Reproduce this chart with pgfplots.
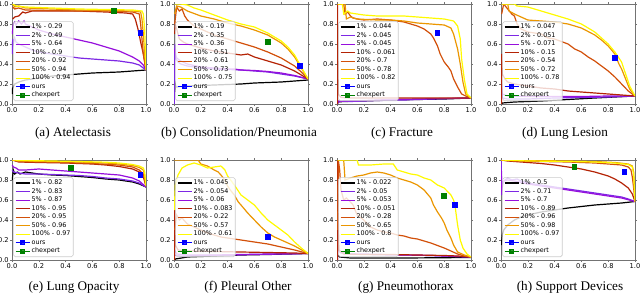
\documentclass[border=0pt]{standalone}
\usepackage{pgfplots}
\pgfplotsset{compat=1.18}
\usepackage{fontspec}
\setmainfont{DejaVu Sans}
\newfontfamily\capfont{Liberation Serif}
\definecolor{c1}{RGB}{0,0,0}
\definecolor{c2}{RGB}{125,40,228}
\definecolor{c3}{RGB}{150,15,220}
\definecolor{c4}{RGB}{180,35,5}
\definecolor{c5}{RGB}{210,80,10}
\definecolor{c6}{RGB}{235,150,0}
\definecolor{c7}{RGB}{255,250,0}
\definecolor{cours}{RGB}{0,0,255}
\definecolor{cchex}{RGB}{0,128,0}
\pgfplotsset{
 pr/.style={scale only axis, width=100.5pt, height=75pt, anchor=south west,
  xmin=0,xmax=1,ymin=0,ymax=1,
  xtick={0,0.2,0.4,0.6,0.8,1}, ytick={0,0.2,0.4,0.6,0.8,1},
  xticklabels={0.0,0.2,0.4,0.6,0.8,1.0}, yticklabels={0.0,0.2,0.4,0.6,0.8,1.0},
  tick label style={font=\fontsize{5}{5.5}\selectfont},
  xticklabel style={inner sep=0.8pt}, yticklabel style={inner sep=0.8pt},
  axis line style={black!55}, tick style={black!55}, tick align=outside, major tick length=1.5pt,
  every axis plot/.append style={line width=0.9pt},
  legend cell align=left,
  legend image code/.code={\draw[mark repeat=2,mark phase=2,#1] plot coordinates {(0cm,0cm) (0.185cm,0cm) (0.37cm,0cm)};},
  legend style={at={(0.01,0.03)}, anchor=south west, font=\fontsize{4.8}{5}\selectfont,
   draw=black!20, fill=white, fill opacity=0.8, text opacity=1, draw opacity=1, rounded corners=1.2pt,
   inner sep=1pt, row sep=0.3pt,
   nodes={inner sep=1pt, text height=3.2pt, text depth=0.9pt}},
 },
 ours/.style={forget plot, only marks, mark=square*, mark size=1.6pt, color=cours},
 chex/.style={forget plot, only marks, mark=square*, mark size=1.6pt, color=cchex},
}
\newcommand{\oc}{%
 \addlegendimage{cours, line width=1pt, mark=square*, mark size=1.3pt}\addlegendentry{ours}
 \addlegendimage{cchex, line width=1pt, mark=square*, mark size=1.3pt}\addlegendentry{chexpert}}
\begin{document}
\begin{tikzpicture}
\useasboundingbox (0,0) rectangle (480pt,220.5pt);
% (a) Atelectasis
\begin{axis}[pr, at={(9pt,142.5pt)}]
\addplot[c1] coordinates {(0.002,0.1) (0.003,0.15) (0.01,0.17) (0.02,0.2) (0.05,0.22) (0.1,0.24) (0.2,0.26) (0.3,0.28) (0.4,0.29) (0.5,0.30) (0.6,0.31) (0.7,0.315) (0.8,0.32) (0.9,0.33) (1.0,0.34)};
\addlegendentry{1\% - 0.29}
\addplot[c2] coordinates {(0.002,0.5) (0.005,0.65) (0.01,0.6) (0.02,0.66) (0.03,0.62) (0.05,0.6) (0.1,0.57) (0.15,0.54) (0.2,0.52) (0.3,0.5) (0.4,0.48) (0.5,0.46) (0.6,0.45) (0.7,0.44) (0.8,0.43) (0.9,0.41) (0.95,0.39) (1,0.34)};
\addlegendentry{2\% - 0.49}
\addplot[c3] coordinates {(0.002,0.7) (0.01,0.8) (0.02,0.82) (0.03,0.79) (0.05,0.83) (0.07,0.8) (0.09,0.83) (0.1,0.8) (0.15,0.77) (0.2,0.74) (0.3,0.7) (0.4,0.67) (0.5,0.64) (0.6,0.61) (0.7,0.57) (0.8,0.53) (0.85,0.5) (0.9,0.47) (0.95,0.43) (0.98,0.39) (1,0.34)};
\addlegendentry{5\% - 0.64}
\addplot[c4] coordinates {(0.005,0.85) (0.02,0.87) (0.05,0.88) (0.08,0.92) (0.1,0.91) (0.15,0.93) (0.3,0.93) (0.5,0.93) (0.7,0.92) (0.85,0.91) (0.9,0.9) (0.92,0.85) (0.94,0.75) (0.96,0.62) (0.98,0.5) (1,0.34)};
\addlegendentry{10\% - 0.9}
\addplot[c5] coordinates {(0.005,0.97) (0.02,0.95) (0.05,0.96) (0.1,0.94) (0.3,0.935) (0.5,0.93) (0.7,0.93) (0.9,0.92) (0.95,0.9) (0.96,0.8) (0.97,0.65) (0.98,0.5) (1,0.34)};
\addlegendentry{20\% - 0.92}
\addplot[c6] coordinates {(0.005,1) (0.02,0.97) (0.05,0.98) (0.1,0.96) (0.3,0.95) (0.5,0.94) (0.7,0.935) (0.9,0.93) (0.96,0.92) (0.97,0.85) (0.98,0.7) (0.99,0.5) (1,0.34)};
\addlegendentry{50\% - 0.94}
\addplot[c7] coordinates {(0.005,1) (0.03,0.98) (0.1,0.97) (0.3,0.96) (0.5,0.95) (0.7,0.945) (0.9,0.94) (0.97,0.93) (0.98,0.9) (0.99,0.75) (0.995,0.55) (1,0.34)};
\addlegendentry{100\% - 0.94}
\addplot[ours] coordinates {(0.96,0.71)};
\addplot[chex] coordinates {(0.76,0.93)};
\oc
\end{axis}
% (b) Consolidation/Pneumonia
\begin{axis}[pr, at={(130.5pt,142.5pt)}]
\addplot[c1] coordinates {(0.008,0.12) (0.01,0.2) (0.015,0.17) (0.02,0.17) (0.05,0.175) (0.1,0.18) (0.2,0.185) (0.3,0.19) (0.4,0.195) (0.5,0.2) (0.6,0.21) (0.7,0.215) (0.8,0.22) (0.9,0.23) (1,0.24)};
\addlegendentry{1\% - 0.19}
\addplot[c2] coordinates {(0.002,0.0) (0.004,0.5) (0.008,0.6) (0.015,0.45) (0.03,0.42) (0.05,0.4) (0.1,0.38) (0.2,0.36) (0.3,0.35) (0.4,0.345) (0.5,0.34) (0.6,0.33) (0.7,0.32) (0.8,0.3) (0.9,0.28) (1,0.25)};
\addlegendentry{2\% - 0.35}
\addplot[c3] coordinates {(0.004,0.55) (0.01,0.5) (0.02,0.46) (0.05,0.43) (0.1,0.4) (0.2,0.37) (0.3,0.36) (0.4,0.35) (0.45,0.35) (0.5,0.34) (0.6,0.335) (0.7,0.325) (0.8,0.31) (0.9,0.285) (1,0.25)};
\addlegendentry{5\% - 0.36}
\addplot[c4] coordinates {(0.005,0.7) (0.01,0.8) (0.02,0.75) (0.04,0.65) (0.07,0.62) (0.1,0.6) (0.15,0.58) (0.2,0.56) (0.3,0.53) (0.4,0.51) (0.5,0.49) (0.55,0.5) (0.6,0.47) (0.7,0.43) (0.8,0.39) (0.9,0.33) (1,0.25)};
\addlegendentry{10\% - 0.51}
\addplot[c5] coordinates {(0.005,0.8) (0.02,0.97) (0.04,0.93) (0.06,0.95) (0.08,0.88) (0.1,0.84) (0.15,0.78) (0.2,0.75) (0.3,0.69) (0.4,0.65) (0.5,0.61) (0.6,0.57) (0.7,0.52) (0.8,0.46) (0.9,0.38) (0.95,0.32) (1,0.25)};
\addlegendentry{20\% - 0.61}
\addplot[c6] coordinates {(0.005,0.9) (0.02,0.98) (0.05,0.97) (0.1,0.93) (0.2,0.88) (0.3,0.85) (0.4,0.81) (0.5,0.78) (0.6,0.74) (0.7,0.69) (0.8,0.61) (0.85,0.55) (0.9,0.47) (0.95,0.36) (1,0.25)};
\addlegendentry{50\% - 0.73}
\addplot[c7] coordinates {(0.005,1) (0.05,1) (0.1,0.99) (0.15,0.96) (0.2,0.94) (0.3,0.89) (0.4,0.84) (0.5,0.8) (0.6,0.77) (0.7,0.71) (0.8,0.63) (0.85,0.57) (0.9,0.49) (0.95,0.37) (1,0.25)};
\addlegendentry{100\% - 0.75}
\addplot[ours] coordinates {(0.94,0.38)};
\addplot[chex] coordinates {(0.70,0.62)};
\oc
\end{axis}
% (c) Fracture
\begin{axis}[pr, at={(252.75pt,142.5pt)}]
\addplot[c1] coordinates {(0.003,0) (0.005,0.02) (0.05,0.025) (0.2,0.03) (0.4,0.04) (0.6,0.045) (0.8,0.05) (1,0.06)};
\addlegendentry{1\% - 0.044}
\addplot[c2] coordinates {(0.005,0.0) (0.01,0.03) (0.1,0.025) (0.3,0.035) (0.5,0.04) (0.7,0.05) (1,0.06)};
\addlegendentry{2\% - 0.045}
\addplot[c3] coordinates {(0.005,0.02) (0.05,0.03) (0.2,0.035) (0.4,0.045) (0.6,0.05) (0.8,0.055) (1,0.06)};
\addlegendentry{5\% - 0.045}
\addplot[c4] coordinates {(0.003,0) (0.004,1.0) (0.006,0.5) (0.01,0.1) (0.03,0.065) (0.1,0.06) (0.3,0.06) (0.5,0.06) (0.7,0.06) (0.9,0.06) (1,0.06)};
\addlegendentry{10\% - 0.061}
\addplot[c5] coordinates {(0.005,1) (0.05,1) (0.06,0.9) (0.08,0.92) (0.1,0.88) (0.12,0.86) (0.15,0.85) (0.2,0.84) (0.3,0.85) (0.4,0.84) (0.45,0.83) (0.5,0.82) (0.55,0.8) (0.6,0.78) (0.65,0.75) (0.7,0.7) (0.72,0.66) (0.75,0.58) (0.77,0.5) (0.8,0.42) (0.83,0.37) (0.85,0.33) (0.87,0.25) (0.9,0.17) (0.93,0.1) (0.96,0.08) (1,0.06)};
\addlegendentry{20\% - 0.7}
\addplot[c6] coordinates {(0.005,1) (0.06,1) (0.07,0.85) (0.1,0.87) (0.15,0.85) (0.3,0.84) (0.4,0.84) (0.5,0.83) (0.6,0.81) (0.7,0.8) (0.8,0.79) (0.85,0.76) (0.87,0.7) (0.9,0.55) (0.92,0.4) (0.94,0.22) (0.96,0.1) (1,0.06)};
\addlegendentry{50\% - 0.78}
\addplot[c7] coordinates {(0.005,1) (0.04,1) (0.05,0.9) (0.08,0.93) (0.1,0.91) (0.2,0.89) (0.3,0.88) (0.5,0.88) (0.6,0.87) (0.7,0.86) (0.8,0.85) (0.87,0.83) (0.9,0.78) (0.92,0.65) (0.93,0.45) (0.95,0.25) (0.97,0.1) (1,0.06)};
\addlegendentry{100\% - 0.82}
\addplot[ours] coordinates {(0.75,0.71)};
\oc
\end{axis}
% (d) Lung Lesion
\begin{axis}[pr, at={(375.75pt,142.5pt)}]
\addplot[c1] coordinates {(0.005,0) (0.01,0.01) (0.1,0.02) (0.3,0.03) (0.5,0.045) (0.7,0.06) (1,0.08)};
\addlegendentry{1\% - 0.047}
\addplot[c2] coordinates {(0.005,0.2) (0.01,0.06) (0.05,0.05) (0.2,0.05) (0.4,0.06) (0.6,0.065) (0.8,0.07) (1,0.08)};
\addlegendentry{2\% - 0.051}
\addplot[c3] coordinates {(0.005,0.15) (0.01,0.1) (0.05,0.08) (0.2,0.075) (0.4,0.075) (0.6,0.075) (0.8,0.08) (1,0.08)};
\addlegendentry{5\% - 0.071}
\addplot[c4] coordinates {(0.003,0) (0.005,0.5) (0.01,0.3) (0.03,0.25) (0.05,0.22) (0.1,0.2) (0.2,0.18) (0.3,0.16) (0.4,0.15) (0.5,0.13) (0.6,0.12) (0.7,0.11) (0.8,0.1) (0.9,0.09) (1,0.08)};
\addlegendentry{10\% - 0.15}
\addplot[c5] coordinates {(0.005,0.9) (0.02,1) (0.05,0.95) (0.08,0.9) (0.1,0.88) (0.12,0.8) (0.15,0.75) (0.2,0.72) (0.3,0.7) (0.35,0.66) (0.4,0.65) (0.5,0.6) (0.55,0.55) (0.6,0.52) (0.65,0.47) (0.7,0.43) (0.75,0.38) (0.8,0.33) (0.85,0.27) (0.9,0.2) (0.95,0.13) (1,0.08)};
\addlegendentry{20\% - 0.54}
\addplot[c6] coordinates {(0.005,1) (0.05,1) (0.06,0.93) (0.1,0.9) (0.15,0.87) (0.2,0.84) (0.3,0.83) (0.4,0.82) (0.5,0.8) (0.6,0.76) (0.7,0.69) (0.75,0.64) (0.8,0.58) (0.85,0.5) (0.88,0.4) (0.9,0.35) (0.93,0.25) (0.96,0.15) (1,0.08)};
\addlegendentry{50\% - 0.72}
\addplot[c7] coordinates {(0.005,1) (0.1,1) (0.12,0.98) (0.2,0.97) (0.3,0.93) (0.4,0.89) (0.5,0.85) (0.6,0.8) (0.7,0.72) (0.8,0.6) (0.85,0.52) (0.9,0.42) (0.93,0.3) (0.96,0.18) (1,0.08)};
\addlegendentry{100\% - 0.78}
\addplot[ours] coordinates {(0.85,0.46)};
\oc
\end{axis}
% (e) Lung Opacity
\begin{axis}[pr, at={(9pt,25.5pt)}]
\addplot[c1] coordinates {(0.002,0.8) (0.01,0.9) (0.02,0.86) (0.04,0.88) (0.06,0.86) (0.1,0.88) (0.15,0.87) (0.2,0.86) (0.3,0.85) (0.4,0.845) (0.5,0.835) (0.6,0.825) (0.7,0.81) (0.8,0.8) (0.9,0.78) (0.95,0.76) (1,0.73)};
\addlegendentry{1\% - 0.82}
\addplot[c2] coordinates {(0.002,0.9) (0.01,0.88) (0.05,0.87) (0.1,0.86) (0.2,0.86) (0.3,0.855) (0.4,0.85) (0.5,0.845) (0.6,0.835) (0.7,0.82) (0.8,0.81) (0.9,0.79) (0.95,0.77) (1,0.73)};
\addlegendentry{2\% - 0.83}
\addplot[c3] coordinates {(0.002,0.95) (0.01,0.93) (0.03,0.92) (0.05,0.9) (0.1,0.9) (0.2,0.91) (0.3,0.9) (0.4,0.89) (0.5,0.88) (0.6,0.87) (0.7,0.86) (0.8,0.85) (0.9,0.82) (0.95,0.79) (1,0.73)};
\addlegendentry{5\% - 0.87}
\addplot[c4] coordinates {(0.002,1) (0.05,0.98) (0.2,0.975) (0.4,0.97) (0.6,0.96) (0.7,0.95) (0.8,0.935) (0.9,0.91) (0.95,0.88) (0.98,0.83) (1,0.74)};
\addlegendentry{10\% - 0.95}
\addplot[c5] coordinates {(0.002,1) (0.05,0.985) (0.2,0.98) (0.4,0.975) (0.6,0.965) (0.8,0.95) (0.9,0.93) (0.95,0.9) (0.98,0.86) (1,0.74)};
\addlegendentry{20\% - 0.95}
\addplot[c6] coordinates {(0.002,1) (0.05,0.99) (0.3,0.985) (0.5,0.98) (0.7,0.97) (0.8,0.96) (0.9,0.945) (0.95,0.925) (0.98,0.9) (0.99,0.85) (1,0.74)};
\addlegendentry{50\% - 0.96}
\addplot[c7] coordinates {(0.002,1) (0.1,0.995) (0.3,0.99) (0.5,0.985) (0.7,0.978) (0.8,0.97) (0.9,0.955) (0.95,0.94) (0.98,0.92) (0.99,0.88) (1,0.74)};
\addlegendentry{100\% - 0.97}
\addplot[ours] coordinates {(0.96,0.85)};
\addplot[chex] coordinates {(0.44,0.92)};
\oc
\end{axis}
% (f) Pleural Other
\begin{axis}[pr, at={(130.5pt,25.5pt)}]
\addplot[c1] coordinates {(0.005,0) (0.01,0.01) (0.1,0.03) (0.3,0.04) (0.5,0.05) (0.7,0.055) (1,0.065)};
\addlegendentry{1\% - 0.045}
\addplot[c2] coordinates {(0.005,0.05) (0.05,0.04) (0.2,0.045) (0.4,0.05) (0.6,0.055) (0.8,0.06) (1,0.065)};
\addlegendentry{2\% - 0.054}
\addplot[c3] coordinates {(0.005,0.1) (0.02,0.06) (0.1,0.05) (0.3,0.05) (0.5,0.055) (0.7,0.06) (1,0.065)};
\addlegendentry{5\% - 0.06}
\addplot[c4] coordinates {(0.003,0) (0.005,0.5) (0.01,0.15) (0.03,0.1) (0.1,0.09) (0.3,0.085) (0.5,0.08) (0.7,0.075) (0.9,0.07) (1,0.065)};
\addlegendentry{10\% - 0.083}
\addplot[c5] coordinates {(0.005,0.3) (0.02,0.45) (0.04,0.4) (0.06,0.42) (0.1,0.36) (0.15,0.33) (0.2,0.3) (0.25,0.27) (0.3,0.25) (0.35,0.23) (0.4,0.22) (0.45,0.21) (0.5,0.2) (0.6,0.18) (0.7,0.16) (0.8,0.13) (0.9,0.1) (1,0.065)};
\addlegendentry{20\% - 0.22}
\addplot[c6] coordinates {(0.002,1) (0.18,1) (0.2,0.96) (0.25,0.94) (0.3,0.9) (0.33,0.88) (0.35,0.85) (0.38,0.8) (0.4,0.74) (0.42,0.7) (0.45,0.65) (0.48,0.58) (0.5,0.55) (0.55,0.47) (0.6,0.4) (0.65,0.33) (0.7,0.27) (0.75,0.23) (0.8,0.2) (0.9,0.14) (1,0.065)};
\addlegendentry{50\% - 0.57}
\addplot[c7] coordinates {(0.002,0.5) (0.01,0.75) (0.03,0.85) (0.06,0.92) (0.1,0.95) (0.15,0.97) (0.2,0.95) (0.25,0.92) (0.3,0.93) (0.35,0.94) (0.38,0.9) (0.4,0.84) (0.45,0.75) (0.5,0.65) (0.55,0.6) (0.6,0.55) (0.65,0.47) (0.7,0.4) (0.75,0.35) (0.8,0.3) (0.85,0.25) (0.9,0.18) (0.95,0.12) (1,0.065)};
\addlegendentry{100\% - 0.61}
\addplot[ours] coordinates {(0.70,0.23)};
\oc
\end{axis}
% (g) Pneumothorax
\begin{axis}[pr, at={(252.75pt,25.5pt)}]
\addplot[c1] coordinates {(0.005,0.05) (0.02,0.03) (0.1,0.02) (0.3,0.02) (0.5,0.02) (0.7,0.022) (1,0.025)};
\addlegendentry{1\% - 0.022}
\addplot[c2] coordinates {(0.003,0) (0.005,0.25) (0.01,0.1) (0.03,0.07) (0.1,0.06) (0.3,0.055) (0.5,0.05) (0.7,0.045) (0.9,0.035) (1,0.03)};
\addlegendentry{2\% - 0.05}
\addplot[c3] coordinates {(0.005,0.15) (0.02,0.08) (0.1,0.06) (0.3,0.055) (0.5,0.05) (0.7,0.045) (1,0.03)};
\addlegendentry{5\% - 0.053}
\addplot[c4] coordinates {(0.003,0) (0.004,1) (0.008,0.5) (0.015,0.1) (0.05,0.06) (0.2,0.055) (0.4,0.055) (0.6,0.05) (0.8,0.045) (0.9,0.04) (1,0.03)};
\addlegendentry{10\% - 0.051}
\addplot[c5] coordinates {(0.005,0.3) (0.01,1) (0.02,0.9) (0.03,0.7) (0.05,0.6) (0.07,0.62) (0.1,0.58) (0.12,0.55) (0.15,0.45) (0.2,0.4) (0.25,0.33) (0.3,0.3) (0.35,0.28) (0.4,0.27) (0.45,0.25) (0.5,0.24) (0.55,0.22) (0.6,0.21) (0.7,0.17) (0.8,0.12) (0.85,0.09) (0.9,0.06) (0.95,0.04) (1,0.03)};
\addlegendentry{20\% - 0.28}
\addplot[c6] coordinates {(0.005,1) (0.05,1) (0.06,0.8) (0.1,0.82) (0.15,0.84) (0.2,0.85) (0.25,0.87) (0.3,0.88) (0.35,0.87) (0.4,0.85) (0.45,0.82) (0.5,0.8) (0.55,0.78) (0.6,0.75) (0.65,0.7) (0.7,0.62) (0.72,0.55) (0.75,0.48) (0.78,0.42) (0.8,0.37) (0.82,0.3) (0.85,0.22) (0.87,0.15) (0.9,0.08) (0.95,0.05) (1,0.03)};
\addlegendentry{50\% - 0.65}
\addplot[c7] coordinates {(0.005,1) (0.15,1) (0.16,0.95) (0.25,0.95) (0.35,0.96) (0.42,0.96) (0.45,0.9) (0.5,0.88) (0.55,0.86) (0.6,0.85) (0.65,0.82) (0.7,0.8) (0.75,0.75) (0.8,0.72) (0.85,0.65) (0.87,0.6) (0.88,0.55) (0.89,0.45) (0.9,0.35) (0.92,0.2) (0.94,0.12) (0.97,0.06) (1,0.03)};
\addlegendentry{100\% - 0.8}
\addplot[ours] coordinates {(0.88,0.55)};
\addplot[chex] coordinates {(0.80,0.64)};
\oc
\end{axis}
% (h) Support Devices
\begin{axis}[pr, at={(375.75pt,25.5pt)}]
\addplot[c1] coordinates {(0.002,0.15) (0.01,0.25) (0.02,0.3) (0.05,0.35) (0.1,0.4) (0.15,0.43) (0.2,0.45) (0.3,0.48) (0.4,0.5) (0.5,0.52) (0.6,0.535) (0.7,0.55) (0.8,0.56) (0.9,0.57) (1,0.585)};
\addlegendentry{1\% - 0.5}
\addplot[c2] coordinates {(0.002,1) (0.005,0.65) (0.01,0.78) (0.03,0.8) (0.05,0.82) (0.08,0.8) (0.12,0.81) (0.15,0.79) (0.2,0.77) (0.3,0.75) (0.4,0.73) (0.5,0.71) (0.6,0.69) (0.7,0.67) (0.8,0.65) (0.9,0.63) (0.95,0.61) (1,0.585)};
\addlegendentry{2\% - 0.71}
\addplot[c3] coordinates {(0.002,0.9) (0.005,0.7) (0.02,0.79) (0.05,0.8) (0.1,0.79) (0.2,0.76) (0.3,0.74) (0.4,0.72) (0.5,0.7) (0.6,0.68) (0.7,0.66) (0.8,0.64) (0.9,0.62) (1,0.585)};
\addlegendentry{5\% - 0.7}
\addplot[c4] coordinates {(0.002,1) (0.05,0.99) (0.1,0.985) (0.2,0.975) (0.3,0.965) (0.4,0.95) (0.5,0.93) (0.6,0.91) (0.7,0.88) (0.8,0.84) (0.85,0.81) (0.9,0.77) (0.95,0.72) (0.98,0.66) (1,0.585)};
\addlegendentry{10\% - 0.89}
\addplot[c5] coordinates {(0.002,1) (0.1,0.99) (0.3,0.985) (0.5,0.98) (0.7,0.97) (0.8,0.96) (0.9,0.95) (0.95,0.93) (0.97,0.9) (0.98,0.83) (0.99,0.72) (1,0.585)};
\addlegendentry{20\% - 0.96}
\addplot[c6] coordinates {(0.002,1) (0.2,0.995) (0.5,0.99) (0.7,0.985) (0.85,0.975) (0.95,0.96) (0.98,0.94) (0.99,0.88) (0.995,0.75) (1,0.585)};
\addlegendentry{50\% - 0.98}
\addplot[c7] coordinates {(0.002,1) (0.2,0.99) (0.5,0.985) (0.7,0.98) (0.85,0.97) (0.95,0.955) (0.98,0.93) (0.99,0.85) (0.995,0.72) (1,0.585)};
\addlegendentry{100\% - 0.97}
\addplot[ours] coordinates {(0.92,0.88)};
\addplot[chex] coordinates {(0.55,0.93)};
\oc
\end{axis}
\begin{scope}[every node/.style={anchor=base, font=\capfont\fontsize{9.9}{11}\selectfont, inner sep=0pt}]
\node at (54.75pt,118.5pt) {(a) Atelectasis};
\node at (179.25pt,118.5pt) {(b) Consolidation/Pneumonia};
\node at (301.5pt,118.5pt) {(c) Fracture};
\node at (423.75pt,118.5pt) {(d) Lung Lesion};
\node at (55.5pt,3pt) {(e) Lung Opacity};
\node at (186pt,3pt) {(f) Pleural Other};
\node at (304.5pt,3pt) {(g) Pneumothorax};
\node at (427.5pt,3pt) {(h) Support Devices};
\end{scope}
\end{tikzpicture}
\end{document}
